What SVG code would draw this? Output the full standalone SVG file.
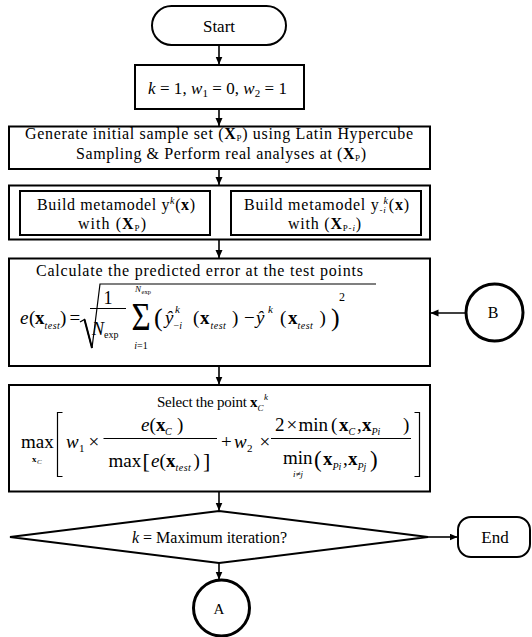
<svg xmlns="http://www.w3.org/2000/svg" width="532" height="637" viewBox="0 0 532 637">
<defs>
<style>
text { font-family: "Liberation Serif", "Times New Roman", serif; fill: #000; font-size: 19px; }
.i { font-style: italic; }
.b { font-weight: bold; }
.t14 { font-size: 16px; }
.sub { font-size: 10px; font-style: italic; letter-spacing: 0.5px; }
.box { fill: #fff; stroke: #000; stroke-width: 2; }
.ring { fill: #fff; stroke: #000; stroke-width: 3; }
.conn line { stroke: #000; stroke-width: 1.6; marker-end: url(#ah); }
.ln { fill: none; stroke: #000; stroke-width: 1.2; }
</style>
<marker id="ah" markerUnits="userSpaceOnUse" markerWidth="9" markerHeight="8" refX="8" refY="3.5" orient="auto">
<path d="M0,0 L8,3.5 L0,7 z" fill="#000"/>
</marker>
</defs>
<rect width="532" height="637" fill="#fff"/>

<g id="connectors" class="conn">
<line x1="219" y1="45" x2="219" y2="64.5"/>
<line x1="219" y1="109" x2="219" y2="126"/>
<line x1="219" y1="169" x2="219" y2="185"/>
<line x1="219" y1="239.5" x2="219" y2="258"/>
<line x1="219" y1="366" x2="219" y2="384.5"/>
<line x1="219" y1="491.5" x2="219" y2="510.5"/>
<line x1="465" y1="313" x2="430.5" y2="313"/>
<line x1="428" y1="537" x2="457.5" y2="537"/>
<line x1="219" y1="563" x2="219" y2="579.5"/>
</g>

<g id="start">
<rect class="box" x="152" y="6" width="134" height="39" rx="19.5"/>
<text x="219" y="32" text-anchor="middle" style="font-size:17px">Start</text>
</g>

<g id="init">
<rect class="box" x="135" y="65" width="169" height="44"/>
<text x="148" y="94" style="font-size:17px" textLength="139" lengthAdjust="spacing"><tspan class="i">k</tspan> = 1, <tspan class="i">w</tspan><tspan style="font-size:11px" dy="3">1</tspan><tspan dy="-3"> = 0, </tspan><tspan class="i">w</tspan><tspan style="font-size:11px" dy="3">2</tspan><tspan dy="-3"> = 1</tspan></text>
</g>

<g id="generate">
<rect class="box" x="9" y="126.5" width="421" height="42.5"/>
<text class="t14" x="25" y="139" textLength="388" lengthAdjust="spacing">Generate initial sample set (<tspan class="b">X</tspan><tspan style="font-size:9px" dy="2">P</tspan><tspan dy="-2">) using Latin Hypercube</tspan></text>
<text class="t14" x="76" y="158.5" textLength="290" lengthAdjust="spacing">Sampling &amp; Perform real analyses at (<tspan class="b">X</tspan><tspan style="font-size:9px" dy="2">P</tspan><tspan dy="-2">)</tspan></text>
</g>

<g id="build">
<rect class="box" x="9" y="185.5" width="421" height="54"/>
<g id="build-left">
<rect class="box" x="20" y="191" width="190" height="44"/>
<text class="t14" x="37" y="210" textLength="158" lengthAdjust="spacing">Build metamodel y<tspan class="i" style="font-size:10px" dy="-6">k</tspan><tspan dy="6">(</tspan><tspan class="b">x</tspan>)</text>
<text class="t14" x="78" y="228.5" textLength="68" lengthAdjust="spacing">with (<tspan class="b">X</tspan><tspan style="font-size:9px" dy="2">P</tspan><tspan dy="-2">)</tspan></text>
</g>
<g id="build-right">
<rect class="box" x="231" y="191" width="190" height="44"/>
<text class="t14" x="244" y="210" textLength="165" lengthAdjust="spacing">Build metamodel y<tspan style="font-size:9px" dy="3">-</tspan><tspan class="i" style="font-size:9px">i</tspan><tspan class="i" style="font-size:10px" dx="-3" dy="-9">k</tspan><tspan dy="6">(</tspan><tspan class="b">x</tspan>)</text>
<text class="t14" x="288" y="228.5" textLength="73" lengthAdjust="spacing">with (<tspan class="b">X</tspan><tspan style="font-size:9px" dy="2">P-</tspan><tspan class="i" style="font-size:9px">i</tspan><tspan dy="-2">)</tspan></text>
</g>
</g>

<g id="calculate">
<rect class="box" x="9" y="258.5" width="421" height="107.5"/>
<text class="t14" x="36" y="276" textLength="327" lengthAdjust="spacing">Calculate the predicted error at the test points</text>
<text class="i" x="20" y="324">e</text>
<text x="29" y="324">(</text>
<text class="b" x="35" y="324">x</text>
<text class="sub" x="44.5" y="329">test</text>
<text x="60" y="324">)</text>
<text x="69.5" y="324">=</text>
<path class="ln" d="M80,322 L84.5,319.5 L92,348 L100,284 H376"/>
<path d="M84.5,319.5 L92,348" stroke="#000" stroke-width="2" fill="none"/>
<text x="108" y="304" text-anchor="middle" style="font-size:18px">1</text>
<line x1="90" y1="308.5" x2="126" y2="308.5" stroke="#000" stroke-width="1"/>
<text class="i" x="92" y="335" style="font-size:18px">N</text>
<text x="104" y="338" style="font-size:10px">exp</text>
<text transform="translate(141,330) scale(1.1,1.35)" text-anchor="middle" style="font-size:30px">Σ</text>
<text class="i" x="135" y="292" style="font-size:9px">N</text>
<text x="141.5" y="294" style="font-size:6.5px">exp</text>
<text x="141" y="348.5" text-anchor="middle" style="font-size:10px"><tspan class="i">i</tspan>=1</text>
<text x="154" y="326" style="font-size:26px">(</text>
<text class="i" x="165" y="324">ŷ</text>
<text class="i" x="175" y="313" style="font-size:11px">k</text>
<text x="173.5" y="329" style="font-size:10px">−<tspan class="i">i</tspan></text>
<text x="193" y="324">(</text>
<text class="b" x="200" y="324">x</text>
<text class="sub" x="210.5" y="329">test</text>
<text x="232" y="324">)</text>
<text x="244" y="324">−</text>
<text class="i" x="256" y="324">ŷ</text>
<text class="i" x="268" y="313" style="font-size:11px">k</text>
<text x="280" y="324">(</text>
<text class="b" x="288" y="324">x</text>
<text class="sub" x="297.5" y="329">test</text>
<text x="319.5" y="324">)</text>
<text x="331" y="326" style="font-size:26px">)</text>
<text x="339" y="301" style="font-size:12px">2</text>
</g>

<g id="select">
<rect class="box" x="9" y="385" width="421" height="106.5"/>
<text x="157" y="406.5" style="font-size:15px" textLength="90" lengthAdjust="spacing">Select the point</text>
<text class="b" x="250" y="406.5" style="font-size:15px">x</text>
<text class="i" x="257.5" y="410.5" style="font-size:9px">C</text>
<text class="i" x="264" y="400" style="font-size:9px">k</text>
<text x="21" y="448">max</text>
<text class="b" x="32" y="462" style="font-size:9px">x</text>
<text class="i" x="37" y="464" style="font-size:7px">C</text>
<path class="ln" d="M62.5,412.5 H57.5 V476.5 H62.5" stroke-width="1.4"/>
<text class="i" x="66" y="448">w</text>
<text x="79" y="452" style="font-size:11px">1</text>
<text x="88.5" y="448">×</text>
<text class="i" x="141" y="431">e</text>
<text x="149.5" y="431">(</text>
<text class="b" x="156" y="431">x</text>
<text class="i" x="165" y="435" style="font-size:10px">C</text>
<text x="177" y="431">)</text>
<line x1="103.5" y1="438.5" x2="217" y2="438.5" stroke="#000" stroke-width="1"/>
<text x="108.5" y="466.5">max</text>
<text x="142.5" y="468" style="font-size:22px">[</text>
<text class="i" x="151" y="466.5">e</text>
<text x="159.5" y="466.5">(</text>
<text class="b" x="166" y="466.5">x</text>
<text class="sub" x="175.5" y="470.5">test</text>
<text x="193.5" y="466.5">)</text>
<text x="203" y="468" style="font-size:22px">]</text>
<text x="221" y="448">+</text>
<text class="i" x="234" y="448">w</text>
<text x="247" y="452" style="font-size:11px">2</text>
<text x="259.5" y="448">×</text>
<text x="275" y="431">2</text>
<text x="286.5" y="431">×</text>
<text x="298.5" y="431">min</text>
<text x="331" y="431">(</text>
<text class="b" x="339" y="431">x</text>
<text class="i" x="348.5" y="435" style="font-size:10px">C</text>
<text x="357" y="431">,</text>
<text class="b" x="362" y="431">x</text>
<text class="i" x="371.5" y="435" style="font-size:10px">Pi</text>
<text x="403" y="431">)</text>
<line x1="271" y1="438.5" x2="411" y2="438.5" stroke="#000" stroke-width="1"/>
<text x="283" y="464">min</text>
<text class="i" x="298" y="477" text-anchor="middle" style="font-size:9px">i≠j</text>
<text x="314" y="467" style="font-size:23px">(</text>
<text class="b" x="323" y="465">x</text>
<text class="i" x="332.5" y="470" style="font-size:10px">Pi</text>
<text x="343" y="465">,</text>
<text class="b" x="348" y="465">x</text>
<text class="i" x="357.5" y="470" style="font-size:10px">Pj</text>
<text x="370" y="467" style="font-size:23px">)</text>
<path class="ln" d="M414.5,412.5 H419.5 V476.5 H414.5" stroke-width="1.4"/>
</g>

<g id="decision">
<polygon class="box" points="219,511 428,537 219,563 10,537"/>
<text x="132" y="543" style="font-size:16px" textLength="155" lengthAdjust="spacing"><tspan class="i">k</tspan> = Maximum iteration?</text>
</g>

<g id="end">
<rect class="box" x="458" y="517" width="72" height="40" rx="13"/>
<text x="495" y="543" text-anchor="middle" style="font-size:17px">End</text>
</g>

<g id="connector-A">
<circle class="ring" cx="221.5" cy="608" r="28"/>
<text x="219" y="613.5" text-anchor="middle" style="font-size:15px">A</text>
</g>

<g id="connector-B">
<circle class="ring" cx="494.5" cy="312.5" r="28.5"/>
<text x="493" y="318" text-anchor="middle" style="font-size:16px">B</text>
</g>
</svg>
